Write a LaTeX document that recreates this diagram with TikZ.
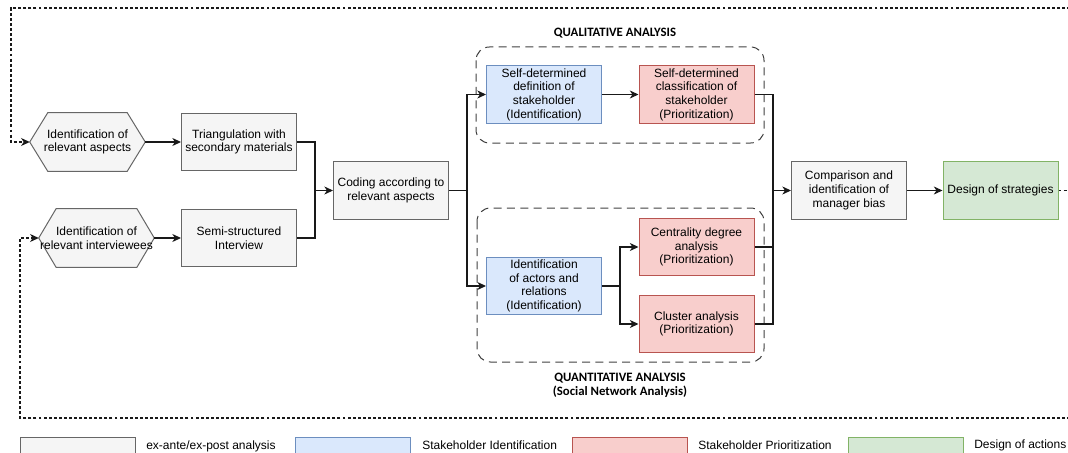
\documentclass[tikz,border=0pt]{standalone}
\usepackage{fontspec}
\setmainfont{Liberation Sans}
\newfontfamily\carlito{Carlito}
\usetikzlibrary{arrows.meta,backgrounds}
\definecolor{gfill}{HTML}{F5F5F5}
\definecolor{gline}{HTML}{666666}
\definecolor{bfill}{HTML}{DAE8FC}
\definecolor{bline}{HTML}{6C8EBF}
\definecolor{rfill}{HTML}{F8CECC}
\definecolor{rline}{HTML}{B85450}
\definecolor{vfill}{HTML}{D5E8D4}
\definecolor{vline}{HTML}{82B366}
\begin{document}
\begin{tikzpicture}[x=0.75pt,y=-0.75pt,
  every node/.style={font=\fontsize{9}{10.3}\selectfont, inner sep=0pt},
  base/.style={draw, line width=0.75pt, minimum width=86.25pt, minimum height=43pt, align=center, inner sep=1pt},
  greybox/.style={base, fill=gfill, draw=gline},
  bluebox/.style={base, fill=bfill, draw=bline},
  redbox/.style={base, fill=rfill, draw=rline},
  greenbox/.style={base, fill=vfill, draw=vline},
  hexnode/.style={minimum width=86.25pt, minimum height=43.5pt, align=center},
  hexshape/.style={fill=gfill, draw=gline, line width=0.75pt},
  conn/.style={line width=0.8pt, draw=black!90},
  arr/.style={conn, -{Stealth[length=6.5pt,width=6pt,inset=2pt]}},
  fb/.style={conn, dash pattern=on 2.2pt off 1.6pt},
  fbarr/.style={fb, -{Stealth[length=6.5pt,width=6pt,inset=2pt]}},
  grp/.style={draw=black!75, line width=0.75pt, dash pattern=on 6pt off 4pt, rounded corners=10pt},
  ttl/.style={font=\carlito\bfseries\fontsize{9.6}{10.5}\selectfont, align=center},
  legtext/.style={anchor=base west}
]
\useasboundingbox (0,0) rectangle (1068,453);
\clip (0,0) rectangle (1068,453);

% group frames
\draw[grp] (476,47) rectangle (764,143);
\draw[grp] (477,208) rectangle (764,362);
\node[ttl] (qualt) at (615,33) {QUALITATIVE ANALYSIS};
\node[ttl] (quant) at (620,385) {QUANTITATIVE ANALYSIS\\(Social Network Analysis)};

% nodes
\node[hexnode] (hex1) at (87.5,142) {Identification of\\relevant aspects};
\node[hexnode] (hex2) at (96.5,238) {Identification of\\relevant interviewees};
\node[greybox] (tri) at (239,142) {Triangulation with\\secondary materials};
\node[greybox] (semi) at (239,238) {Semi-structured\\Interview};
\node[greybox] (coding) at (391,190.5) {Coding according to\\relevant aspects};
\node[bluebox] (sddef) at (544,94.5) {Self-determined\\definition of\\stakeholder\\(Identification)};
\node[redbox] (sdcls) at (696.5,94.5) {Self-determined\\classification of\\stakeholder\\(Prioritization)};
\node[bluebox] (idact) at (544,286) {Identification\\of actors and\\relations\\(Identification)};
\node[redbox] (cent) at (696.5,247) {Centrality degree\\analysis\\(Prioritization)};
\node[redbox] (clus) at (696.5,324) {Cluster analysis\\(Prioritization)};
\node[greybox] (comp) at (849,190.5) {Comparison and\\identification of\\manager bias};
\node[greenbox] (design) at (1000.5,190.5) {Design of strategies};

\begin{scope}[on background layer]
\foreach \h/\d in {hex1/13.5pt, hex2/13pt}
  \path[hexshape] (\h.west) -- ([xshift=\d]\h.north west) -- ([xshift=-\d]\h.north east)
     -- (\h.east) -- ([xshift=-\d]\h.south east) -- ([xshift=\d]\h.south west) -- cycle;
\end{scope}

% junctions
\coordinate (j1) at (315,190.5);
\coordinate (j2) at (467,190.5);
\coordinate (j3) at (620,286);
\coordinate (j4) at (773,190.5);
\coordinate (tr) at (1070,8);
\coordinate (tl) at (11,8);
\coordinate (br) at (1070,418);
\coordinate (bl) at (20,418);
\coordinate (rr) at (1070,190.5);

% connectors
\draw[arr] (hex1.east) -- (tri.west);
\draw[arr] (hex2.east) -- (semi.west);
\draw[conn] (tri.east) -| (j1);
\draw[conn] (semi.east) -| (j1);
\draw[arr] (j1) -- (coding.west);
\draw[conn] (coding.east) -- (j2);
\draw[arr] (j2) |- (sddef.west);
\draw[arr] (j2) |- (idact.west);
\draw[arr] (sddef.east) -- (sdcls.west);
\draw[conn] (idact.east) -- (j3);
\draw[arr] (j3) |- (cent.west);
\draw[arr] (j3) |- (clus.west);
\draw[conn] (sdcls.east) -| (j4);
\draw[conn] (cent.east) -| (j4);
\draw[conn] (clus.east) -| (j4);
\draw[arr] (j4) -- (comp.west);
\draw[arr] (comp.east) -- (design.west);

% feedback lines
\draw[fb] (design.east) -- (rr);
\draw[fbarr] (tr) -- (tl) |- (hex1.west);
\draw[fbarr] (br) -- (bl) |- (hex2.west);

% legend
\node[greybox, anchor=north] (lg1) at (77.5,437) {};
\node[bluebox, anchor=north] (lg2) at (353,437) {};
\node[redbox, anchor=north] (lg3) at (630,437) {};
\node[greenbox, anchor=north] (lg4) at (905.5,437) {};
\node[legtext] (lt1) at (146,449) {ex-ante/ex-post analysis};
\node[legtext] (lt2) at (422,449) {Stakeholder Identification};
\node[legtext] (lt3) at (698,449) {Stakeholder Prioritization};
\node[legtext] (lt4) at (974,448) {Design of actions};
\end{tikzpicture}
\end{document}
